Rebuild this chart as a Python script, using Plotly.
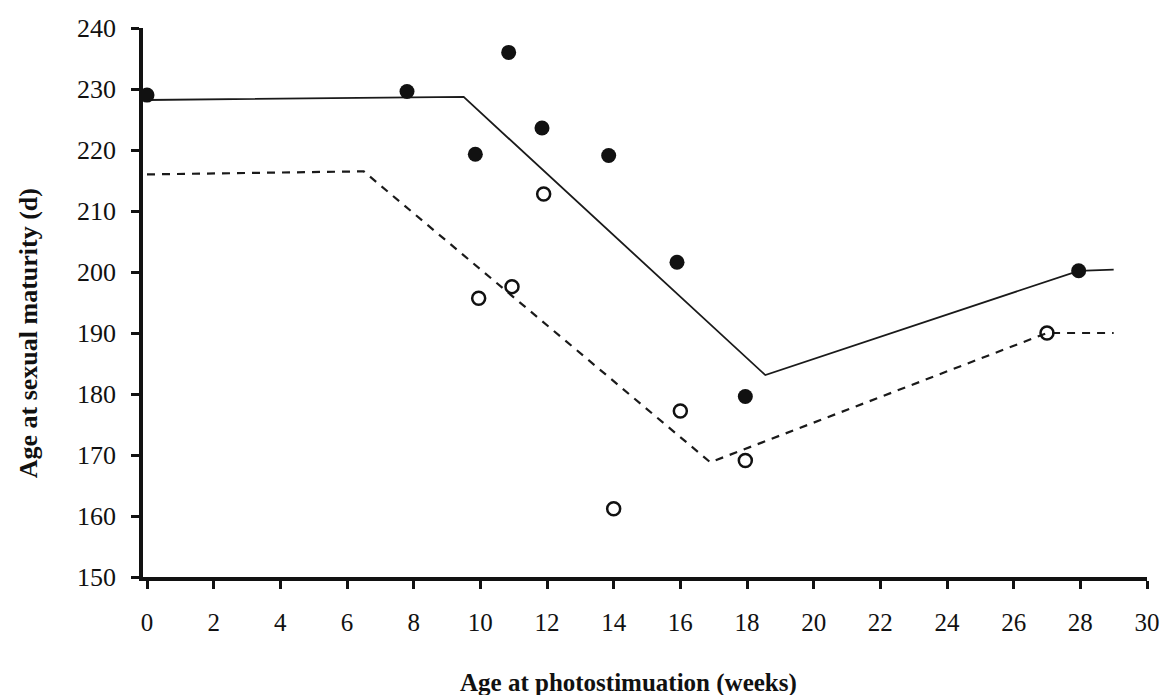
import plotly.graph_objects as go

# Observed group means: filled circles (first series) and open circles (second series)
filled_x = [0, 7.8, 9.85, 10.85, 11.85, 13.85, 15.9, 17.95, 27.95]
filled_y = [229.0, 229.6, 219.3, 236.0, 223.6, 219.1, 201.6, 179.6, 200.2]

open_x = [9.95, 10.95, 11.9, 14.0, 16.0, 17.95, 27.0]
open_y = [195.7, 197.6, 212.8, 161.2, 177.2, 169.1, 190.0]

# Fitted broken-line models
solid_fit_x = [0, 9.5, 18.55, 27.95, 29]
solid_fit_y = [228.2, 228.7, 183.1, 200.2, 200.4]

dashed_fit_x = [0, 6.5, 16.9, 27.0, 29]
dashed_fit_y = [216.0, 216.5, 168.8, 190.0, 190.0]

x_ticks = list(range(0, 31, 2))
y_ticks = list(range(150, 241, 10))

x_title = "Age at photostimuation (weeks)"
y_title = "Age at sexual maturity (d)"

SERIF = "Liberation Serif, Times New Roman, serif"
INK = "#111111"

fig = go.Figure()

fig.add_trace(go.Scatter(
    x=solid_fit_x, y=solid_fit_y, mode="lines",
    line=dict(color="#1a1a1a", width=1.8), cliponaxis=False, showlegend=False,
))
fig.add_trace(go.Scatter(
    x=dashed_fit_x, y=dashed_fit_y, mode="lines",
    line=dict(color="#1a1a1a", width=2.2, dash="8px,7px"), cliponaxis=False, showlegend=False,
))
fig.add_trace(go.Scatter(
    x=filled_x, y=filled_y, mode="markers",
    marker=dict(symbol="circle", size=15, color=INK, line=dict(width=0)),
    cliponaxis=False, showlegend=False,
))
fig.add_trace(go.Scatter(
    x=open_x, y=open_y, mode="markers",
    marker=dict(symbol="circle-open", size=13, color=INK, line=dict(width=2.5)),
    cliponaxis=False, showlegend=False,
))

# Axis titles placed as paper-anchored annotations
fig.add_annotation(
    text=f"<b>{x_title}</b>", xref="paper", yref="paper",
    x=0.484, y=-0.193, xanchor="center", yanchor="middle", showarrow=False,
    font=dict(family=SERIF, size=25, color=INK),
)
fig.add_annotation(
    text=f"<b>{y_title}</b>", xref="paper", yref="paper",
    x=-0.114, y=0.443, xanchor="center", yanchor="middle", showarrow=False,
    textangle=-90, font=dict(family=SERIF, size=26, color=INK),
)

fig.update_layout(
    width=1172, height=695,
    margin=dict(l=143, r=19, t=28, b=118),
    paper_bgcolor="white", plot_bgcolor="white",
    font=dict(family=SERIF, color=INK),
    xaxis=dict(
        range=[-0.12, 30], tickvals=x_ticks, ticktext=[str(v) for v in x_ticks],
        showgrid=False, zeroline=False,
        showline=True, linecolor=INK, linewidth=3.5,
        ticks="outside", ticklen=8, tickwidth=3, tickcolor=INK,
        tickfont=dict(family=SERIF, size=25, color=INK),
        ticklabelstandoff=12,
    ),
    yaxis=dict(
        range=[150, 240], tickvals=y_ticks, ticktext=[str(v) for v in y_ticks],
        showgrid=False, zeroline=False,
        showline=True, linecolor=INK, linewidth=3.5,
        ticks="outside", ticklen=8, tickwidth=3, tickcolor=INK,
        tickfont=dict(family=SERIF, size=26, color=INK),
        ticklabelstandoff=10,
    ),
)

fig.write_html("out.html")
